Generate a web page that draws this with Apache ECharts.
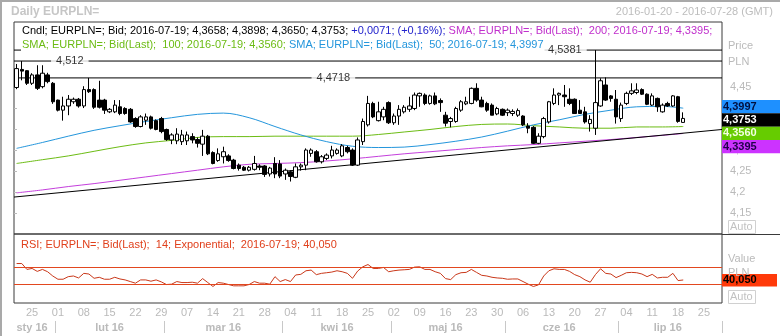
<!DOCTYPE html>
<html>
<head>
<meta charset="utf-8">
<script src="https://cdn.jsdelivr.net/npm/echarts@6/dist/echarts.min.js"></script>
<style>
  html, body { margin: 0; padding: 0; background: #fff; }
  #chart { width: 780px; height: 336px; }
</style>
</head>
<body>
<div id="chart"></div>
<script>
// Daily EURPLN= candles with SMA 50/100/200 and RSI(14)
const START = '2016-01-20';
const END = '2016-07-28';

// [open, high, low, close] per trading day from 2016-01-20
const ohlc = [
  [4.449, 4.505, 4.445, 4.494], [4.492, 4.512, 4.466, 4.488], [4.489, 4.490, 4.455, 4.459], [4.459, 4.483, 4.455, 4.479],
  [4.479, 4.502, 4.443, 4.447], [4.451, 4.502, 4.447, 4.483], [4.479, 4.484, 4.459, 4.463], [4.459, 4.462, 4.410, 4.415],
  [4.419, 4.420, 4.392, 4.395], [4.395, 4.427, 4.370, 4.405], [4.405, 4.431, 4.383, 4.421], [4.415, 4.425, 4.410, 4.421],
  [4.421, 4.424, 4.401, 4.405], [4.405, 4.452, 4.400, 4.444], [4.444, 4.4718, 4.436, 4.439], [4.444, 4.447, 4.398, 4.402],
  [4.419, 4.465, 4.399, 4.402], [4.419, 4.422, 4.386, 4.395], [4.391, 4.400, 4.388, 4.397], [4.391, 4.419, 4.388, 4.407],
  [4.403, 4.419, 4.383, 4.387], [4.399, 4.402, 4.384, 4.387], [4.397, 4.400, 4.365, 4.367], [4.375, 4.378, 4.353, 4.356],
  [4.356, 4.383, 4.354, 4.379], [4.371, 4.387, 4.360, 4.379], [4.379, 4.382, 4.349, 4.352], [4.370, 4.373, 4.347, 4.349],
  [4.375, 4.379, 4.340, 4.344], [4.349, 4.351, 4.322, 4.325], [4.324, 4.340, 4.314, 4.336], [4.322, 4.352, 4.314, 4.338],
  [4.320, 4.348, 4.312, 4.336], [4.322, 4.344, 4.312, 4.336], [4.332, 4.340, 4.316, 4.324], [4.325, 4.330, 4.306, 4.316],
  [4.314, 4.348, 4.286, 4.333], [4.333, 4.336, 4.288, 4.291], [4.294, 4.297, 4.266, 4.268], [4.275, 4.304, 4.272, 4.291],
  [4.284, 4.308, 4.268, 4.296], [4.286, 4.290, 4.272, 4.275], [4.276, 4.279, 4.254, 4.256], [4.264, 4.268, 4.251, 4.256],
  [4.259, 4.262, 4.250, 4.252], [4.252, 4.262, 4.249, 4.259], [4.254, 4.286, 4.251, 4.268], [4.262, 4.266, 4.252, 4.259],
  [4.262, 4.264, 4.236, 4.242], [4.243, 4.260, 4.237, 4.257], [4.268, 4.283, 4.233, 4.243], [4.267, 4.276, 4.233, 4.238],
  [4.243, 4.256, 4.229, 4.252], [4.248, 4.252, 4.225, 4.237], [4.235, 4.268, 4.233, 4.260], [4.260, 4.268, 4.251, 4.264],
  [4.264, 4.304, 4.252, 4.300], [4.292, 4.304, 4.284, 4.300], [4.296, 4.300, 4.270, 4.272], [4.272, 4.288, 4.268, 4.284],
  [4.280, 4.292, 4.276, 4.288], [4.286, 4.310, 4.280, 4.300], [4.292, 4.304, 4.289, 4.300], [4.286, 4.314, 4.283, 4.310],
  [4.306, 4.310, 4.292, 4.296], [4.300, 4.304, 4.262, 4.264], [4.264, 4.330, 4.262, 4.324], [4.320, 4.375, 4.312, 4.368],
  [4.360, 4.429, 4.356, 4.411], [4.411, 4.415, 4.376, 4.379], [4.370, 4.415, 4.368, 4.391], [4.379, 4.403, 4.371, 4.397],
  [4.413, 4.416, 4.362, 4.365], [4.365, 4.387, 4.360, 4.381], [4.381, 4.407, 4.360, 4.397], [4.391, 4.407, 4.387, 4.402],
  [4.397, 4.427, 4.391, 4.405], [4.399, 4.437, 4.395, 4.431], [4.429, 4.437, 4.403, 4.435], [4.431, 4.435, 4.407, 4.411],
  [4.411, 4.432, 4.408, 4.429], [4.429, 4.437, 4.407, 4.410], [4.418, 4.423, 4.391, 4.413], [4.383, 4.391, 4.356, 4.364],
  [4.368, 4.379, 4.354, 4.375], [4.368, 4.403, 4.365, 4.399], [4.395, 4.419, 4.391, 4.415], [4.410, 4.427, 4.407, 4.415],
  [4.411, 4.449, 4.409, 4.447], [4.447, 4.459, 4.415, 4.419], [4.419, 4.427, 4.402, 4.403], [4.411, 4.415, 4.391, 4.395],
  [4.407, 4.411, 4.383, 4.383], [4.386, 4.403, 4.383, 4.399], [4.397, 4.399, 4.381, 4.383], [4.389, 4.399, 4.381, 4.395],
  [4.387, 4.397, 4.381, 4.392], [4.383, 4.399, 4.379, 4.394], [4.381, 4.383, 4.357, 4.360], [4.357, 4.364, 4.340, 4.352],
  [4.354, 4.357, 4.314, 4.316], [4.316, 4.340, 4.314, 4.333], [4.332, 4.379, 4.328, 4.375], [4.367, 4.417, 4.363, 4.415],
  [4.411, 4.447, 4.407, 4.431], [4.431, 4.437, 4.407, 4.435], [4.431, 4.455, 4.403, 4.427], [4.421, 4.447, 4.407, 4.411],
  [4.421, 4.423, 4.386, 4.387], [4.395, 4.419, 4.386, 4.387], [4.391, 4.403, 4.363, 4.367], [4.363, 4.383, 4.344, 4.373],
  [4.352, 4.5381, 4.336, 4.413], [4.405, 4.471, 4.403, 4.465], [4.455, 4.473, 4.417, 4.419], [4.429, 4.431, 4.415, 4.423],
  [4.421, 4.443, 4.363, 4.379], [4.375, 4.413, 4.367, 4.407], [4.411, 4.439, 4.407, 4.435], [4.435, 4.459, 4.431, 4.441],
  [4.437, 4.459, 4.433, 4.443], [4.444, 4.447, 4.431, 4.433], [4.433, 4.435, 4.407, 4.409], [4.407, 4.435, 4.405, 4.429],
  [4.423, 4.425, 4.391, 4.403], [4.391, 4.411, 4.389, 4.407], [4.411, 4.415, 4.403, 4.405], [4.405, 4.431, 4.403, 4.429],
  [4.427, 4.429, 4.365, 4.3682], [4.3658, 4.3898, 4.3650, 4.3753]
];

// moving averages, read weekly
const smaDates = ['2016-01-20', '2016-01-27', '2016-02-03', '2016-02-10', '2016-02-17', '2016-02-24', '2016-03-02',
  '2016-03-09', '2016-03-16', '2016-03-23', '2016-03-30', '2016-04-06', '2016-04-13', '2016-04-20', '2016-04-27',
  '2016-05-04', '2016-05-11', '2016-05-18', '2016-05-25', '2016-06-01', '2016-06-08', '2016-06-15', '2016-06-22',
  '2016-06-29', '2016-07-06', '2016-07-13', '2016-07-19'];
const sma50 = [4.304, 4.318, 4.333, 4.347, 4.358, 4.368, 4.377, 4.385, 4.388, 4.377, 4.356, 4.336, 4.320, 4.309,
  4.306, 4.307, 4.313, 4.321, 4.331, 4.345, 4.360, 4.372, 4.385, 4.395, 4.403, 4.404, 4.3997];
const sma100 = [4.268, 4.277, 4.286, 4.297, 4.308, 4.317, 4.323, 4.330, 4.332, 4.332, 4.333, 4.333, 4.333, 4.333,
  4.337, 4.343, 4.349, 4.356, 4.361, 4.362, 4.358, 4.355, 4.352, 4.352, 4.355, 4.355, 4.3560];
const sma200 = [4.198, 4.205, 4.213, 4.220, 4.228, 4.236, 4.244, 4.252, 4.260, 4.266, 4.268, 4.270, 4.274, 4.279,
  4.285, 4.291, 4.296, 4.301, 4.306, 4.310, 4.313, 4.317, 4.321, 4.325, 4.330, 4.335, 4.3395];

// RSI(14), exponential, per trading day
const rsi14 = [
  79.4, 79.4, 65.3, 67.6, 60.6, 65.3, 59.8, 49.6, 41.8, 41.8, 48.0, 49.6, 44.9, 55.9, 54.3, 44.1, 46.5, 41.8, 41.8, 46.5,
  42.5, 40.2, 36.3, 32.4, 40.2, 40.2, 37.1, 40.2, 35.5, 29.2, 30.0, 36.3, 33.9, 33.9, 34.7, 32.4, 43.3, 33.9, 24.5, 33.9,
  32.4, 29.2, 26.1, 26.1, 26.1, 29.2, 36.3, 32.4, 32.4, 30.0, 48.0, 36.3, 41.0, 36.3, 52.0, 53.5, 62.1, 63.7, 52.8, 55.9,
  57.4, 59.0, 62.1, 59.8, 55.9, 44.1, 61.4, 71.6, 77.0, 67.6, 67.6, 70.0, 59.8, 62.1, 63.7, 64.5, 65.3, 70.8, 71.6, 65.3,
  65.3, 59.8, 55.9, 43.3, 41.0, 52.8, 57.4, 58.2, 65.3, 58.2, 51.2, 49.6, 46.5, 44.9, 44.1, 41.8, 42.5, 42.5, 36.3, 30.0,
  24.5, 28.4, 49.6, 62.1, 66.8, 65.3, 65.3, 60.6, 52.8, 48.0, 40.2, 34.7, 52.8, 66.8, 55.9, 54.3, 45.7, 51.2, 57.4, 58.2,
  57.4, 54.3, 48.0, 53.5, 44.9, 46.5, 46.5, 55.9, 38.6, 40.05
];
const rsiLevels = [70, 30];

// trend line (left edge -> right edge) and marked price levels
const trendLine = [4.188, 4.349];
const levels = [4.512, 4.4718, 4.5381];
const priceTicks = [4.15, 4.2, 4.25, 4.3, 4.35, 4.4, 4.45];
const MONTHS = ['sty', 'lut', 'mar', 'kwi', 'maj', 'cze', 'lip'];

// ---- layout / style ----
const FONT = '"Liberation Sans", Arial, sans-serif';
const GREY = '#bababa';
const levelLabelAt = [10.8, 61.8, 106.6];   // position of each level tag along the slot axis

const dec = (v, d) => v.toFixed(d).replace('.', ',');
const plain = v => String(+v.toFixed(4)).replace('.', ',');

// trading-day categories
const dates = [];
for (let t = Date.parse(START + 'T00:00:00Z'); t <= Date.parse(END + 'T00:00:00Z'); t += 864e5) {
  const d = new Date(t), w = d.getUTCDay();
  if (w !== 0 && w !== 6) dates.push(d.toISOString().slice(0, 10));
}
const N = dates.length;
const monthStarts = new Set(), monthMids = new Set();
{
  let cur = null, first = 0;
  dates.forEach((d, i) => {
    const m = d.slice(0, 7);
    if (m !== cur) {
      if (cur !== null) { monthMids.add(Math.floor((first + i - 1) / 2)); monthStarts.add(i); }
      cur = m; first = i;
    }
  });
  monthMids.add(Math.floor((first + N - 1) / 2));
}
const isMonday = v => new Date(v + 'T00:00:00Z').getUTCDay() === 1;

const last = ohlc[ohlc.length - 1], prev = ohlc[ohlc.length - 2];
const lastDate = dates[ohlc.length - 1];
const chg = last[3] - prev[3];
const chgPct = chg / prev[3] * 100;
const sgn = v => (v >= 0 ? '+' : '');
const lastOf = a => a[a.length - 1];

const chart = echarts.init(document.getElementById('chart'), null, { renderer: 'canvas' });

const lineSeries = (name, vals, color) => ({
  name, type: 'line', xAxisIndex: 0, yAxisIndex: 0,
  data: smaDates.map((d, k) => [d, vals[k]]),
  showSymbol: false, smooth: 0.35, silent: true, z: 2,
  lineStyle: { color, width: 1 }
});

chart.setOption({
  animation: false,
  backgroundColor: '#fff',
  textStyle: { fontFamily: FONT },
  grid: [
    { left: 14, top: 22, width: 708, height: 212, show: true, borderColor: '#3a3a3a', borderWidth: 1, backgroundColor: '#fff' },
    { left: 14, top: 234, width: 708, height: 69, show: true, borderColor: '#3a3a3a', borderWidth: 1 }
  ],
  xAxis: [
    { type: 'category', gridIndex: 0, position: 'bottom', data: dates, boundaryGap: true,
      axisLine: { show: false }, axisTick: { show: false }, axisLabel: { show: false }, splitLine: { show: false } },
    { type: 'category', gridIndex: 1, position: 'bottom', data: dates, boundaryGap: true,
      axisLine: { show: false }, axisTick: { show: false },
      axisLabel: { interval: (i, v) => isMonday(v), formatter: v => v.slice(8), color: GREY, fontSize: 11,
        fontFamily: FONT, margin: 4 } },
    { type: 'category', gridIndex: 1, position: 'bottom', data: dates, boundaryGap: true, offset: 18,
      axisLine: { show: false },
      axisTick: { show: true, interval: i => monthStarts.has(i), length: 12, lineStyle: { color: '#c8c8c8' } },
      axisLabel: { interval: i => monthMids.has(i), formatter: v => MONTHS[+v.slice(5, 7) - 1] + ' ' + v.slice(2, 4),
        color: GREY, fontSize: 11, fontWeight: 'bold', fontFamily: FONT, margin: 1 } },
    { type: 'value', gridIndex: 0, position: 'top', min: 0, max: N, show: false }
  ],
  yAxis: [
    { type: 'value', gridIndex: 0, position: 'right', min: 4.1, max: 4.605, offset: 4, scale: true,
      splitLine: { show: false }, axisLine: { show: false },
      axisTick: { show: true, customValues: priceTicks, length: 3, lineStyle: { color: GREY } },
      axisLabel: { customValues: priceTicks, formatter: v => plain(v), color: GREY, fontSize: 11, fontFamily: FONT, margin: 4 } },
    { type: 'value', gridIndex: 1, position: 'right', min: -15, max: 150, show: false, splitLine: { show: false } }
  ],
  series: [
    lineSeries('SMA200', sma200, '#c43fdc'),
    lineSeries('SMA100', sma100, '#6cbc14'),
    lineSeries('SMA50', sma50, '#2496dc'),
    { name: 'Trend', type: 'line', xAxisIndex: 3, yAxisIndex: 0, data: [[0, trendLine[0]], [N, trendLine[1]]],
      showSymbol: false, silent: true, z: 2, lineStyle: { color: '#000', width: 1 } },
    ...levels.map(v => ({
      type: 'line', xAxisIndex: 3, yAxisIndex: 0, data: [[0, v], [N, v]], showSymbol: false, silent: true, z: 2,
      lineStyle: { color: '#000', width: 1 }
    })),
    { type: 'candlestick', xAxisIndex: 0, yAxisIndex: 0, z: 4, barWidth: 4,
      data: ohlc.map(r => [r[0], r[3], r[2], r[1]]),
      itemStyle: { color: '#fff', color0: '#000', borderColor: '#000', borderColor0: '#000', borderWidth: 1 } },
    { type: 'scatter', xAxisIndex: 3, yAxisIndex: 0, z: 6, silent: true, symbolSize: 2,
      itemStyle: { color: 'rgba(255,255,255,0)' },
      data: levels.map((v, k) => [levelLabelAt[k], v]),
      label: { show: true, position: 'inside', formatter: p => plain(p.value[1]), color: '#000', fontSize: 11,
        fontFamily: FONT, backgroundColor: '#fff', padding: [1, 5] } },
    { name: 'RSI', type: 'line', xAxisIndex: 1, yAxisIndex: 1, data: rsi14, showSymbol: false, silent: true,
      lineStyle: { color: '#c9381a', width: 1 },
      markLine: { silent: true, symbol: 'none', label: { show: false },
        lineStyle: { color: '#e2471f', width: 1, type: 'solid' },
        data: rsiLevels.map(v => ({ yAxis: v })) } }
  ]
});

// ---- text, value tags and frame ----
const txt = (x, y, text, opt) => ({
  type: 'text', x, y, z: 56, silent: true,
  style: Object.assign({ text, fill: GREY, fontSize: 11, fontFamily: FONT, verticalAlign: 'middle' }, opt || {})
});

const g = [];
g.push({ type: 'rect', shape: { x: 0, y: 0, width: 2, height: 336 }, style: { fill: '#a9a9a9' }, z: 60, silent: true });
g.push({ type: 'rect', shape: { x: 0, y: 0, width: 780, height: 2 }, style: { fill: '#a9a9a9' }, z: 60, silent: true });
g.push({ type: 'line', shape: { x1: 722, y1: 234.5, x2: 780, y2: 234.5 }, style: { stroke: '#3a3a3a', lineWidth: 1 }, z: 40, silent: true });

g.push(txt(11, 12, 'Daily EURPLN=', { fontWeight: 'bold', fontSize: 12, fill: '#c6c6c6' }));
g.push(txt(773, 12, START + ' - ' + END + ' (GMT)', { align: 'right', fill: '#bdbdbd' }));

// legend lines
const row1 = '{k|Cndl; EURPLN=; Bid; ' + lastDate + '; ' + last.map(v => dec(v, 4)).join('; ') + '; }' +
  '{b|' + sgn(chg) + dec(chg, 4) + '; (' + sgn(chgPct) + dec(chgPct, 2) + '%); }' +
  '{m|SMA; EURPLN=; Bid(Last);  200; ' + lastDate + '; ' + dec(lastOf(sma200), 4) + ';}';
const row2 = '{g|SMA; EURPLN=; Bid(Last);  100; ' + lastDate + '; ' + dec(lastOf(sma100), 4) + '; }' +
  '{c|SMA; EURPLN=; Bid(Last);  50; ' + lastDate + '; ' + dec(lastOf(sma50), 4) + '}';
const rich = {
  k: { fill: '#000', fontSize: 11, fontFamily: FONT },
  b: { fill: '#2222cc', fontSize: 11, fontFamily: FONT },
  m: { fill: '#c030cc', fontSize: 11, fontFamily: FONT },
  g: { fill: '#6cbc14', fontSize: 11, fontFamily: FONT },
  c: { fill: '#2496dc', fontSize: 11, fontFamily: FONT }
};
g.push(txt(21, 31, row1, { rich, backgroundColor: '#fff', padding: [1, 1], fill: '#000' }));
g.push(txt(21, 45, row2, { rich, backgroundColor: '#fff', padding: [1, 1], fill: '#000' }));
g.push(txt(21, 245, 'RSI; EURPLN=; Bid(Last);  14; Exponential;  ' + lastDate + '; ' + dec(lastOf(rsi14), 3),
  { fill: '#e0401c' }));

// axis captions
g.push(txt(728, 46, 'Price'));
g.push(txt(728, 62, 'PLN'));
g.push(txt(728, 259, 'Value'));
g.push(txt(728, 273, 'PLN'));
[227, 297].forEach(y => {
  g.push({ type: 'rect', shape: { x: 728.5, y: y - 6.5, width: 27, height: 13 }, style: { fill: '#fff', stroke: '#d0d0d0', lineWidth: 1 }, z: 45, silent: true });
  g.push(txt(730, y, 'Auto', { fill: '#c2c2c2' }));
});

// value tags on the price axis, stacked so they do not overlap
const tags = [
  { v: lastOf(sma50), bg: '#1e90ff', fg: '#001040' },
  { v: last[3], bg: '#000', fg: '#fff' },
  { v: lastOf(sma100), bg: '#66cc00', fg: '#f2ffe0' },
  { v: lastOf(sma200), bg: '#cc33ff', fg: '#20004a' }
].sort((a, b) => b.v - a.v);
const TAG_H = 13.3;
let bottom = -Infinity;
tags.forEach(t => {
  const py = chart.convertToPixel({ yAxisIndex: 0 }, t.v);
  const top = Math.max(py - 1.5 - TAG_H / 2, bottom);
  bottom = top + TAG_H;
  g.push({ type: 'rect', shape: { x: 722, y: top, width: 58, height: TAG_H }, style: { fill: t.bg }, z: 55, silent: true });
  g.push(txt(723, top + TAG_H / 2, dec(t.v, 4), { fill: t.fg, fontWeight: 'bold' }));
});
const rsiY = chart.convertToPixel({ yAxisIndex: 1 }, lastOf(rsi14));
g.push({ type: 'rect', shape: { x: 722, y: rsiY - 6, width: 55, height: 12.5 }, style: { fill: '#ff3a0a' }, z: 55, silent: true });
g.push(txt(723, rsiY, dec(lastOf(rsi14), 3), { fill: '#000', fontWeight: 'bold' }));

chart.setOption({ graphic: g });
</script>
</body>
</html>
